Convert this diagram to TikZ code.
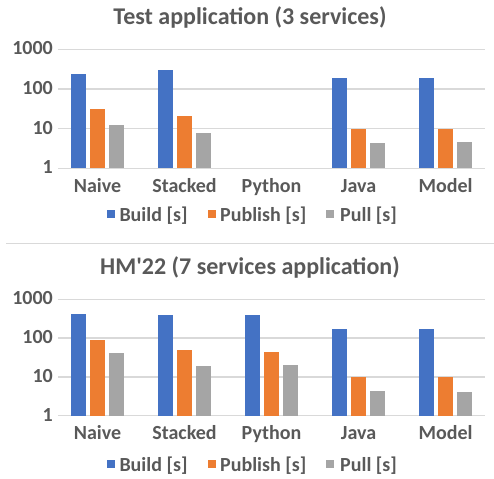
\documentclass[tikz,border=0pt]{standalone}
\usepackage{fontspec}
\setmainfont{Carlito}
\usetikzlibrary{positioning}

\definecolor{buildblue}{HTML}{4472C4}
\definecolor{publishorange}{HTML}{ED7D31}
\definecolor{pullgray}{HTML}{A5A5A5}
\definecolor{labelgray}{HTML}{595959}
\definecolor{gridgray}{HTML}{D9D9D9}

\tikzset{
  every node/.style={text=labelgray, font=\bfseries\fontsize{20}{24}\selectfont, inner sep=0pt},
  charttitle/.style={font=\bfseries\fontsize{24}{28}\selectfont, anchor=base},
  ticklabel/.style={anchor=base east},
  catlabel/.style={anchor=base},
  gridline/.style={draw=gridgray, line width=1.3pt},
  keybox/.style={minimum size=8pt, anchor=center},
  keytext/.style={anchor=base west}
}

\begin{document}
\begin{tikzpicture}[x=1pt, y=-1pt]
  \useasboundingbox (0,0) rectangle (494,478);

  % upper chart
  \node[charttitle] (toptitle) at (250,25) {Test application (3 services)};
  \foreach \d/\lab in {0/1,1/10,2/100,3/1000} {
    \pgfmathsetmacro\gy{168.3-39.6*\d}
    \draw[gridline] (58,\gy) -- (485,\gy);
    \node[ticklabel] (toptick\d) at (53,\gy+5.5) {\lab};
  }
  % no bars for Python here
  \foreach \c/\b/\p/\g in {0/240/31/12.4, 1/300/21/7.6, 3/190/9.6/4.4, 4/190/9.6/4.6} {
    \pgfmathsetmacro\cx{97.5+87*\c}
    \fill[buildblue] (\cx-26.8,168.3) rectangle (\cx-11.8,{168.3-39.6*log10(\b)});
    \fill[publishorange] (\cx-7.5,168.3) rectangle (\cx+7.5,{168.3-39.6*log10(\p)});
    \fill[pullgray] (\cx+11.8,168.3) rectangle (\cx+26.8,{168.3-39.6*log10(\g)});
  }
  \foreach \c/\lab in {0/Naive,1/Stacked,2/Python,3/Java,4/Model}
    \node[catlabel] (topcat\c) at (97.5+87*\c,192) {\lab};

  \node[keybox, fill=buildblue] (topkeyb) at (111.3,213.5) {};
  \node[keytext] (toptextb) at (119.3,221) {Build [s]};
  \node[keybox, fill=publishorange] (topkeyp) at (212,213.5) {};
  \node[keytext] (toptextp) at (220,221) {Publish [s]};
  \node[keybox, fill=pullgray] (topkeyg) at (330,213.5) {};
  \node[keytext] (toptextg) at (340,221) {Pull [s]};

  % separator
  \coordinate (sepleft) at (6,243.3);
  \coordinate (sepright) at (494,243.3);
  \draw[gridgray, line width=1.2pt] (sepleft) -- (sepright);

  % lower chart
  \node[charttitle] (bottitle) at (250,274.3) {HM\textquotesingle22 (7 services application)};
  \foreach \d/\lab in {0/1,1/10,2/100,3/1000} {
    \pgfmathsetmacro\gy{415.7-38.8*\d}
    \draw[gridline] (58,\gy) -- (485,\gy);
    \node[ticklabel] (bottick\d) at (53,\gy+5.6) {\lab};
  }
  \foreach \c/\b/\p/\g in {0/417/89/41, 1/390/49/19, 2/390/45/20.5, 3/171/9.8/4.3, 4/171/9.8/4.2} {
    \pgfmathsetmacro\cx{97.5+87*\c}
    \fill[buildblue] (\cx-26.8,415.7) rectangle (\cx-11.8,{415.7-38.8*log10(\b)});
    \fill[publishorange] (\cx-7.5,415.7) rectangle (\cx+7.5,{415.7-38.8*log10(\p)});
    \fill[pullgray] (\cx+11.8,415.7) rectangle (\cx+26.8,{415.7-38.8*log10(\g)});
  }
  \foreach \c/\lab in {0/Naive,1/Stacked,2/Python,3/Java,4/Model}
    \node[catlabel] (botcat\c) at (97.5+87*\c,439) {\lab};

  \node[keybox, fill=buildblue] (botkeyb) at (111.3,463.8) {};
  \node[keytext] (bottextb) at (119.3,471.5) {Build [s]};
  \node[keybox, fill=publishorange] (botkeyp) at (212,463.8) {};
  \node[keytext] (bottextp) at (220,471.5) {Publish [s]};
  \node[keybox, fill=pullgray] (botkeyg) at (330,463.8) {};
  \node[keytext] (bottextg) at (340,471.5) {Pull [s]};
\end{tikzpicture}
\end{document}
